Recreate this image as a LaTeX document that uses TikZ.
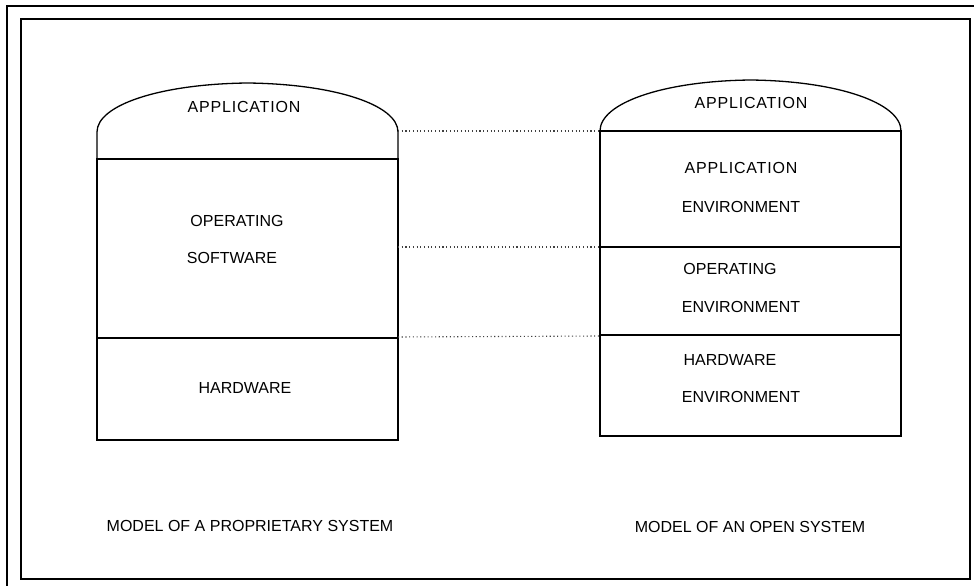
\documentclass[tikz,border=0pt]{standalone}
\usepackage{fontspec}
\setmainfont{Liberation Sans}
\begin{document}
\begin{tikzpicture}[x=1pt,y=-1pt,
  solidline/.style={line width=1.3pt,black},
  frameline/.style={line width=1.2pt,black},
  dotline/.style={line width=1.1pt,black!75,dash pattern=on 1.1pt off 2.6pt},
  lbl/.style={inner sep=0pt,font=\fontsize{16}{19}\selectfont,anchor=center},
  widelbl/.style={lbl,font=\fontsize{16}{19}\selectfont\addfontfeature{LetterSpace=5}},
  captext/.style={inner sep=0pt,font=\fontsize{16}{19}\selectfont,anchor=center}]
\useasboundingbox (0,0) rectangle (974,586);
% frames
\draw[frameline] (7,586) -- (7,6) -- (974,6);
\draw[frameline] (21,19) rectangle (970,579);
% left stack
\draw[solidline] (97,159) -- (97,132) .. controls (97,105) and (160,84) .. (247.5,83)
   .. controls (335,84) and (398,105) .. (398,132) -- (398,159);
\draw[solidline] (97,159) rectangle (398,338);
\draw[solidline] (97,338) rectangle (398,440);
% right stack
\draw[solidline] (600,131) .. controls (600,103) and (663,81) .. (750.5,80)
   .. controls (838,81) and (901,103) .. (901,131);
\draw[solidline] (600,131) rectangle (901,247);
\draw[solidline] (600,247) rectangle (901,335);
\draw[solidline] (600,335) rectangle (901,436);
% texts
\node[widelbl] (lapp) at (244,107) {APPLICATION};
\node[lbl] (lop) at (237,221) {OPERATING};
\node[lbl] (lsw) at (232,258) {SOFTWARE};
\node[lbl] (lhw) at (245,388) {HARDWARE};
\node[widelbl] (rapp) at (751,103) {APPLICATION};
\node[widelbl] (rapp2) at (741,168) {APPLICATION};
\node[lbl] (renv1) at (741,207) {ENVIRONMENT};
\node[lbl] (rop) at (730,269) {OPERATING};
\node[lbl] (renv2) at (741,307) {ENVIRONMENT};
\node[lbl] (rhw) at (730,360) {HARDWARE};
\node[lbl] (renv3) at (741,397) {ENVIRONMENT};
\node[captext] (lcap) at (250,526) {MODEL OF A PROPRIETARY SYSTEM};
\node[captext] (rcap) at (750,527) {MODEL OF AN OPEN SYSTEM};
% dotted connectors
\coordinate (a1) at (398,131); \coordinate (b1) at (600,131);
\coordinate (a2) at (398,247); \coordinate (b2) at (600,247);
\coordinate (a3) at (398,337); \coordinate (b3) at (600,336);
\draw[dotline] (a1) -- (b1);
\draw[dotline] (a2) -- (b2);
\draw[dotline] (a3) -- (b3);
\end{tikzpicture}
\end{document}
